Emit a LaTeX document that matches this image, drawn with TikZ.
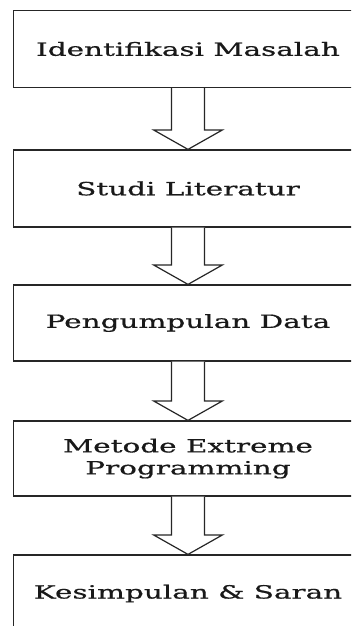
\documentclass[tikz,border=0pt]{standalone}
\usepackage{fontspec}
\newfontfamily\boxfont[FakeStretch=1.62, FakeBold=0.7]{DejaVu Serif}
\usetikzlibrary{calc}

\tikzset{
  stepbox/.style={draw=black!85, line width=1.2pt, minimum width=349pt,
    minimum height=77pt, inner sep=0pt, align=center, text=black!90,
    font=\boxfont\fontsize{18.2}{22}\selectfont},
  blockarrow/.style={draw=black!85, line width=1.2pt, line join=miter, fill=white}
}

% hollow block arrow from the bottom of one box to the top of the next
\newcommand{\flowarrow}[2]{%
  \draw[blockarrow] let \p1=(#1.south), \p2=(#2.north) in
    (\x1-16.5pt,\y1) -- (\x1-16.5pt,\y2+19.5pt) -- (\x1-34.5pt,\y2+19.5pt)
    -- (\x2,\y2) -- (\x1+34.5pt,\y2+19.5pt) -- (\x1+16.5pt,\y2+19.5pt)
    -- (\x1+16.5pt,\y1);
}

\begin{document}
\begin{tikzpicture}[x=1pt,y=1pt]
  \useasboundingbox (0,0) rectangle (351,-626);
  \clip (0,0) rectangle (351,-626);

  \node[stepbox] (s1) at (188,-49)    {Identifikasi Masalah};
  \node[stepbox] (s2) at (188,-188.5) {Studi Literatur};
  \node[stepbox, minimum height=76pt] (s3) at (188,-323) {Pengumpulan Data};
  \node[stepbox, minimum height=75pt] (s4) at (188,-458.5) {Metode Extreme\\Programming};
  \node[stepbox] (s5) at (188,-593.5) {Kesimpulan \& Saran};

  \flowarrow{s1}{s2}
  \flowarrow{s2}{s3}
  \flowarrow{s3}{s4}
  \flowarrow{s4}{s5}
\end{tikzpicture}
\end{document}
